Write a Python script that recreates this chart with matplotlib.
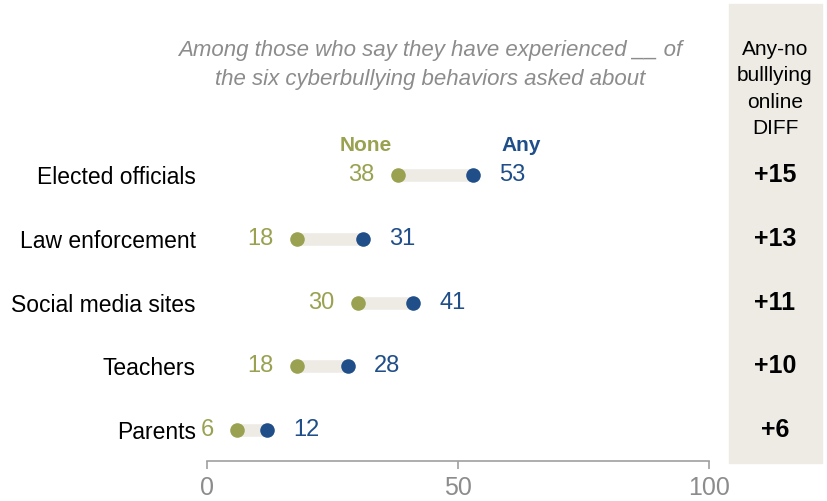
import matplotlib
matplotlib.use("Agg")
import matplotlib.pyplot as plt
from matplotlib.patches import Rectangle
import matplotlib.transforms as mtransforms

plt.rcParams['font.family'] = ['Liberation Sans Narrow', 'Liberation Sans', 'DejaVu Sans']

categories = ["Elected officials", "Law enforcement", "Social media sites", "Teachers", "Parents"]
none_vals = [38, 18, 30, 18, 6]
any_vals = [53, 31, 41, 28, 12]
x_ticks = [0, 50, 100]

GREEN = "#9AA150"
BLUE = "#1F4E89"
BAR = "#EEEBE4"
PANEL = "#EEEBE4"
GRAY = "#8C8C8C"

W, H = 827, 501
fig = plt.figure(figsize=(W / 100, H / 100), dpi=100)

def fx(px):
    return px / W

def fy(py):
    return 1 - py / H

# main axes: x 207..709 px, y 130..461 px
ax = fig.add_axes([fx(207), fy(461), fx(709) - fx(207), fy(130) - fy(461)])
ax.set_xlim(0, 100)
ax.set_ylim(4.486, -0.706)

ys = list(range(len(categories)))
for y, n, a in zip(ys, none_vals, any_vals):
    ax.plot([n, a], [y, y], color=BAR, lw=9, solid_capstyle='butt', zorder=1)
ax.scatter(none_vals, ys, s=110, color=GREEN, zorder=3, linewidths=0)
ax.scatter(any_vals, ys, s=110, color=BLUE, zorder=3, linewidths=0)

vfs = 17
for y, n, a in zip(ys, none_vals, any_vals):
    ax.annotate(f"{n}", (n, y), xytext=(-17, 0), textcoords='offset points',
                ha='right', va='center', color=GREEN, fontsize=vfs)
    ax.annotate(f"{a}", (a, y), xytext=(19, 0), textcoords='offset points',
                ha='left', va='center', color=BLUE, fontsize=vfs)

# series headers above first row
ax.annotate("None", (none_vals[0], 0), xytext=(-23, 21), textcoords='offset points',
            ha='center', va='center', color=GREEN, fontsize=15, fontweight='bold')
ax.annotate("Any", (any_vals[0], 0), xytext=(35, 21), textcoords='offset points',
            ha='center', va='center', color=BLUE, fontsize=15, fontweight='bold')

ax.set_yticks(ys)
ax.set_yticklabels(categories, fontsize=16.5)
ax.tick_params(axis='y', length=0, pad=8, labelcolor='black')
ax.set_xticks(x_ticks)
ax.set_xticklabels([str(t) for t in x_ticks], fontsize=18, color=GRAY)
ax.tick_params(axis='x', length=6, color='#A0A0A0', width=1.2, pad=5)
for s in ['top', 'right', 'left']:
    ax.spines[s].set_visible(False)
ax.spines['bottom'].set_color('#A0A0A0')
ax.spines['bottom'].set_linewidth(1.2)

# subtitle
fig.text(fx(430), fy(65), "Among those who say they have experienced __ of\nthe six cyberbullying behaviors asked about",
         ha='center', va='center', fontsize=16, style='italic', color='#8C8C8C', linespacing=1.5)

# right panel
fig.patches.append(Rectangle((fx(729), fy(463)), fx(822) - fx(729), fy(4) - fy(463),
                             transform=fig.transFigure, color=PANEL, zorder=0))
fig.text(fx(775), fy(89), "Any-no\nbulllying\nonline\nDIFF", ha='center', va='center',
         fontsize=15, color='black', linespacing=1.5)
trans = mtransforms.blended_transform_factory(fig.transFigure, ax.transData)
for y, n, a in zip(ys, none_vals, any_vals):
    fig.text(fx(775), y, f"+{a - n}", transform=trans, ha='center', va='center',
             fontsize=18, fontweight='bold', color='black')

fig.savefig("out.png", dpi=100)
